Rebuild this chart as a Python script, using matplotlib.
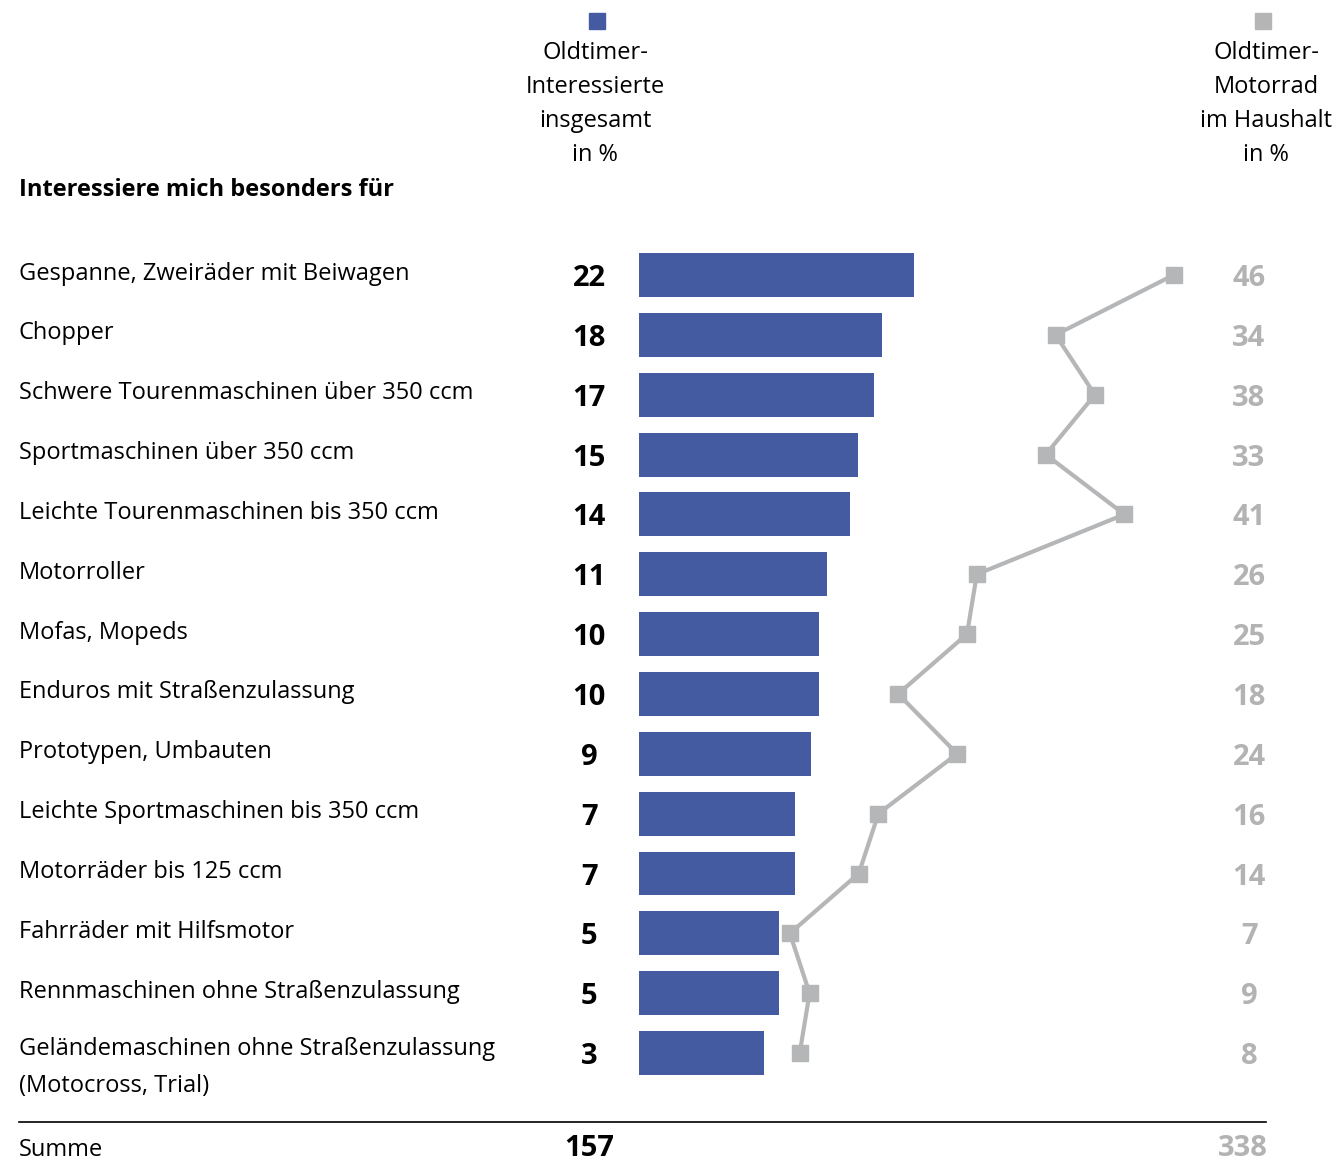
import numpy as np
import matplotlib.pyplot as plt
from matplotlib.transforms import blended_transform_factory

plt.rcParams['font.family'] = ['Open Sans', 'DejaVu Sans']

# Data
categories = [
    "Gespanne, Zweiräder mit Beiwagen",
    "Chopper",
    "Schwere Tourenmaschinen über 350 ccm",
    "Sportmaschinen über 350 ccm",
    "Leichte Tourenmaschinen bis 350 ccm",
    "Motorroller",
    "Mofas, Mopeds",
    "Enduros mit Straßenzulassung",
    "Prototypen, Umbauten",
    "Leichte Sportmaschinen bis 350 ccm",
    "Motorräder bis 125 ccm",
    "Fahrräder mit Hilfsmotor",
    "Rennmaschinen ohne Straßenzulassung",
    "Geländemaschinen ohne Straßenzulassung\n(Motocross, Trial)",
]
insgesamt = [22, 18, 17, 15, 14, 11, 10, 10, 9, 7, 7, 5, 5, 3]
haushalt = [46, 34, 38, 33, 41, 26, 25, 18, 24, 16, 14, 7, 9, 8]
summe_insgesamt = 157
summe_haushalt = 338

header_left = "Oldtimer-\nInteressierte\ninsgesamt\nin %"
header_right = "Oldtimer-\nMotorrad\nim Haushalt\nin %"
section_title = "Interessiere mich besonders für"

# Style
W, H = 1338, 1162
blue = '#445ba1'
grey_line = '#b5b6b8'
grey_text = '#b3b3b3'
label_fs = 17
num_fs = 21

fig = plt.figure(figsize=(W / 100, H / 100), dpi=100)


def fx(px):
    return px / W


def fy(py):
    return 1 - py / H


rows = np.arange(len(categories))
row_top, row_step = 275, 59.85
ax_top = row_top - row_step / 2
ax_bot = row_top + row_step * (len(rows) - 0.5)

# bars
base = 12.8          # bars start a bit left of zero, like the original
bar_scale = 7.89     # px per percent
ax_bar = fig.add_axes([fx(639), fy(ax_bot), fx(361), (ax_bot - ax_top) / H])
ax_bar.barh(rows, np.array(insgesamt) + base, left=-base, height=0.735, color=blue)
ax_bar.set_xlim(-base, -base + 361 / bar_scale)
ax_bar.set_ylim(len(rows) - 0.5, -0.5)
ax_bar.axis('off')

# line
ax_line = fig.add_axes([fx(700), fy(ax_bot), fx(500), (ax_bot - ax_top) / H])
ax_line.plot(haushalt, rows, color=grey_line, lw=3, marker='s', ms=11.5,
             solid_joinstyle='miter')
ax_line.set_xlim((700 - 721) / 9.84, (1200 - 721) / 9.84)
ax_line.set_ylim(len(rows) - 0.5, -0.5)
ax_line.axis('off')

tr = blended_transform_factory(fig.transFigure, ax_bar.transData)
for i, (cat, v1, v2) in enumerate(zip(categories, insgesamt, haushalt)):
    if '\n' in cat:
        fig.text(fx(19), i - 0.27, cat, transform=tr, ha='left', va='top',
                 fontsize=label_fs, linespacing=1.75)
    else:
        fig.text(fx(19), i - 0.075, cat, transform=tr, ha='left',
                 va='center_baseline', fontsize=label_fs)
    fig.text(fx(589), i, str(v1), transform=tr, ha='center', va='center_baseline',
             fontsize=num_fs, fontweight='bold', color='black')
    fig.text(fx(1249), i, str(v2), transform=tr, ha='center', va='center_baseline',
             fontsize=num_fs, fontweight='bold', color=grey_text)

# headers
fig.text(fx(595), fy(41), header_left, ha='center', va='top', fontsize=label_fs,
         linespacing=1.55)
fig.text(fx(1266), fy(41), header_right, ha='center', va='top', fontsize=label_fs,
         linespacing=1.55)
fig.patches.append(plt.Rectangle((fx(589), fy(29)), fx(16), 16 / H, color=blue,
                                 transform=fig.transFigure))
fig.patches.append(plt.Rectangle((fx(1255), fy(29)), fx(16), 16 / H, color='#b5b5b5',
                                 transform=fig.transFigure))

fig.text(fx(19), fy(187), section_title, ha='left', va='center_baseline',
         fontsize=label_fs, fontweight='bold')

# sum row
fig.add_artist(plt.Line2D([fx(19), fx(1266)], [fy(1122), fy(1122)], color='black',
                          lw=1.2, transform=fig.transFigure))
fig.text(fx(19), fy(1156), "Summe", ha='left', va='baseline', fontsize=label_fs)
fig.text(fx(589), fy(1156), str(summe_insgesamt), ha='center', va='baseline',
         fontsize=num_fs, fontweight='bold')
fig.text(fx(1243), fy(1156), str(summe_haushalt), ha='center', va='baseline',
         fontsize=num_fs, fontweight='bold', color=grey_text)

fig.savefig('out.png', dpi=100)
